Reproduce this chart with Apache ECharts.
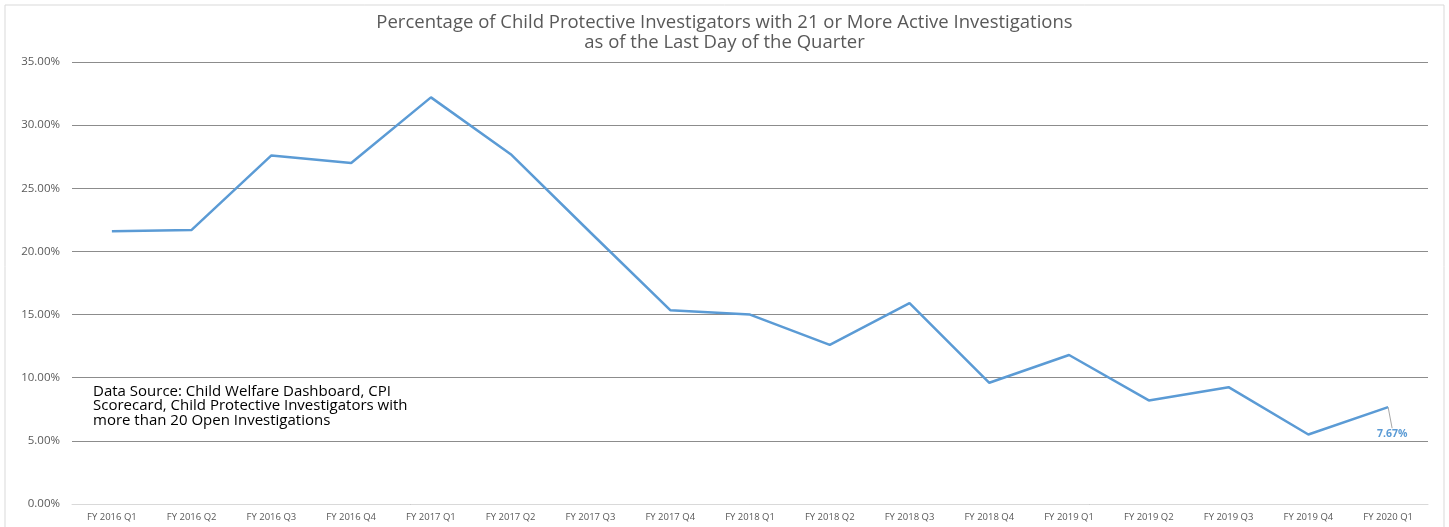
<!DOCTYPE html>
<html>
<head>
<meta charset="utf-8">
<script src="https://cdn.jsdelivr.net/npm/echarts@6/dist/echarts.min.js"></script>
<style>
  html, body { margin: 0; padding: 0; background: #fff; }
  #chart { width: 1449px; height: 527px; }
</style>
</head>
<body>
<div id="chart"></div>
<script>
const quarters = [
  'FY 2016 Q1', 'FY 2016 Q2', 'FY 2016 Q3', 'FY 2016 Q4',
  'FY 2017 Q1', 'FY 2017 Q2', 'FY 2017 Q3', 'FY 2017 Q4',
  'FY 2018 Q1', 'FY 2018 Q2', 'FY 2018 Q3', 'FY 2018 Q4',
  'FY 2019 Q1', 'FY 2019 Q2', 'FY 2019 Q3', 'FY 2019 Q4',
  'FY 2020 Q1'
]
const percentages = [
  21.6, 21.7, 27.6, 27.0,
  32.2, 27.7, 21.5, 15.35,
  15.0, 12.6, 15.9, 9.6,
  11.8, 8.2, 9.25, 5.5,
  7.67
]
const titleLines = [
  'Percentage of Child Protective Investigators with 21 or More Active Investigations',
  'as of the Last Day of the Quarter'
]
const sourceNote = 'Data Source: Child Welfare Dashboard, CPI\nScorecard, Child Protective Investigators with\nmore than 20 Open Investigations'

const font = '"Open Sans", Lato, sans-serif'
const chart = echarts.init(document.getElementById('chart'))

const lastIdx = percentages.length - 1
const seriesData = percentages.map((v, i) => {
  if (i !== lastIdx) return v
  return {
    value: v,
    label: {
      show: true,
      position: 'bottom',
      formatter: p => p.value.toFixed(2) + '%',
      color: '#5b9bd5',
      fontSize: 10.5,
      fontWeight: 'bold',
      fontFamily: font
    },
    labelLine: { show: true, lineStyle: { color: '#a6a6a6', width: 1 } }
  }
})

const option = {
  animation: false,
  backgroundColor: '#fff',
  title: {
    text: titleLines.join('\n'),
    left: 'center',
    top: 8,
    textStyle: {
      color: '#595959',
      fontSize: 18.5,
      fontWeight: 'normal',
      fontFamily: font,
      lineHeight: 20
    }
  },
  grid: { left: 72, right: 21, top: 62, bottom: 23 },
  xAxis: {
    type: 'category',
    data: quarters,
    boundaryGap: true,
    axisLine: { lineStyle: { color: '#d9d9d9' } },
    axisTick: { show: false },
    axisLabel: { color: '#595959', fontSize: 9.5, fontFamily: font, margin: 8, interval: 0 }
  },
  yAxis: {
    type: 'value',
    min: 0,
    max: 35,
    interval: 5,
    axisLine: { show: false },
    axisTick: { show: false },
    axisLabel: {
      color: '#595959',
      fontSize: 11.5,
      fontFamily: font,
      margin: 12,
      formatter: v => v.toFixed(2) + '%'
    },
    splitLine: { lineStyle: { color: '#8c8c8c', width: 1 } }
  },
  series: [
    {
      type: 'line',
      data: seriesData,
      symbol: 'circle',
      symbolSize: 0.1,
      showSymbol: true,
      itemStyle: { color: '#5b9bd5' },
      lineStyle: { color: '#5b9bd5', width: 2.5 },
      labelLayout: { dx: 4, dy: 16 }
    }
  ],
  graphic: [
    {
      type: 'rect',
      shape: { x: 5, y: 5, width: 1439, height: 530 },
      style: { fill: 'none', stroke: '#d9d9d9', lineWidth: 1 },
      silent: true
    },
    {
      type: 'text',
      left: 93,
      top: 384,
      style: {
        text: sourceNote,
        fill: '#000',
        fontSize: 15,
        fontFamily: font,
        lineHeight: 14.5
      }
    }
  ]
}

chart.setOption(option)
</script>
</body>
</html>
